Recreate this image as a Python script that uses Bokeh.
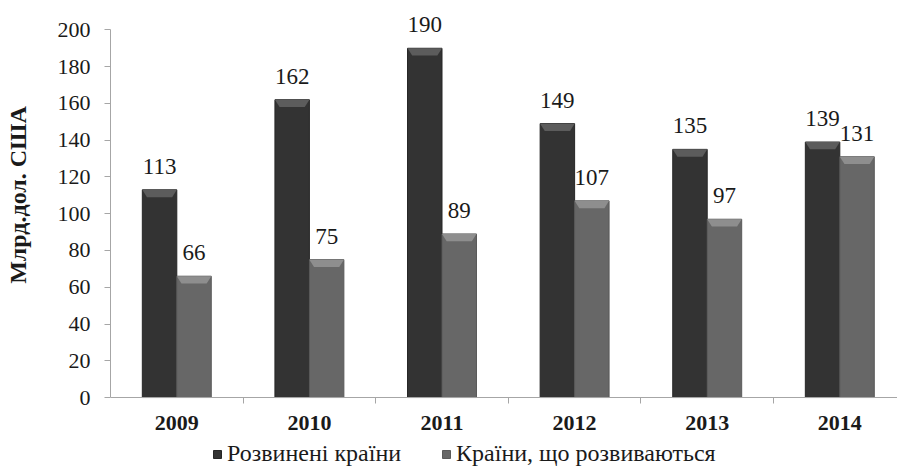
from bokeh.plotting import figure
from bokeh.models import Range1d, FixedTicker, ColumnDataSource, Legend, LegendItem, LabelSet
from bokeh.embed import file_html
from bokeh.resources import INLINE

years = ["2009", "2010", "2011", "2012", "2013", "2014"]
developed = [113, 162, 190, 149, 135, 139]
developing = [66, 75, 89, 107, 97, 131]
series_names = ["Розвинені країни", "Країни, що розвиваються"]
y_ticks = [0, 20, 40, 60, 80, 100, 120, 140, 160, 180, 200]
y_title = "Млрд.дол. США"

DARK = "#333333"
GRAY = "#676767"
FONT = "Liberation Serif"

centers = [i + 0.5 for i in range(len(years))]
bw = 0.26
off = 0.13
bev_h = 4.0     # bevel height in data units
bev_dx = 0.035  # bevel inset

p = figure(width=897, height=468, output_backend="svg", toolbar_location=None,
           x_range=Range1d(0, 5.935), y_range=Range1d(-38.6, 210),
           min_border_left=110, min_border_right=0, min_border_top=11, min_border_bottom=0)
p.outline_line_color = None
p.xgrid.grid_line_color = None
p.ygrid.grid_line_color = None
p.background_fill_color = "white"

def bevel(xs, tops):
    px, py = [], []
    for x, t in zip(xs, tops):
        l, r = x - bw / 2, x + bw / 2
        px.append([l, r, r - bev_dx, l + bev_dx])
        py.append([t, t, t - bev_h, t - bev_h])
    return px, py

x1 = [c - off for c in centers]
x2 = [c + off for c in centers]
src1 = ColumnDataSource(dict(x=x1, top=developed, lab=[str(v) for v in developed]))
src2 = ColumnDataSource(dict(x=x2, top=developing, lab=[str(v) for v in developing]))

r1 = p.vbar(x="x", top="top", bottom=0, width=bw, source=src1, fill_color=DARK,
            line_color="#262626", line_width=1)
r2 = p.vbar(x="x", top="top", bottom=0, width=bw, source=src2, fill_color=GRAY,
            line_color="#5a5a5a", line_width=1)
bx, by = bevel(x1, developed)
p.patches(bx, by, fill_color="#5c5c5c", line_color=None)
bx, by = bevel(x2, developing)
p.patches(bx, by, fill_color="#8e8e8e", line_color=None)

for s in (src1, src2):
    p.add_layout(LabelSet(x="x", y="top", text="lab", source=s, text_align="center",
                          text_baseline="bottom", y_offset=16, text_font=FONT,
                          text_font_size="23px", text_color="#1a1a1a"))

# y axis
ya = p.yaxis[0]
ya.ticker = FixedTicker(ticks=y_ticks)
ya.bounds = (0, 200)
ya.axis_line_color = "#a6a6a6"
ya.major_tick_line_color = "#a6a6a6"
ya.major_tick_out = 6
ya.major_tick_in = 0
ya.minor_tick_line_color = None
ya.major_label_standoff = 14
ya.major_label_text_font = FONT
ya.major_label_text_font_size = "22px"
ya.major_label_text_color = "#1a1a1a"
ya.axis_label = "\u00a0" * 15 + y_title
ya.axis_label_text_font = FONT
ya.axis_label_text_font_style = "bold"
ya.axis_label_text_font_size = "24px"
ya.axis_label_text_color = "#1a1a1a"
ya.axis_label_standoff = 24

# x axis, drawn at y = 0 inside the frame
xa = p.xaxis[0]
xa.fixed_location = 0
xa.ticker = FixedTicker(ticks=centers, minor_ticks=[1, 2, 3, 4, 5])
xa.major_label_overrides = {c: y for c, y in zip(centers, years)}
xa.axis_line_color = "#a6a6a6"
xa.major_tick_line_color = None
xa.minor_tick_line_color = "#a6a6a6"
xa.minor_tick_out = 6
xa.minor_tick_in = 0
xa.major_label_standoff = 12
xa.major_label_text_font = FONT
xa.major_label_text_font_style = "bold"
xa.major_label_text_font_size = "22px"
xa.major_label_text_color = "#1a1a1a"

legend = Legend(items=[LegendItem(label=series_names[0], renderers=[r1]),
                       LegendItem(label=series_names[1], renderers=[r2])],
                orientation="horizontal", location=(102, 1),
                label_text_font=FONT, label_text_font_size="24px", label_text_color="#1a1a1a",
                glyph_width=10, glyph_height=10, label_standoff=5, spacing=40,
                padding=0, margin=0, border_line_color=None, background_fill_alpha=0)
p.add_layout(legend, "center")

open("out.html", "w").write(file_html(p, INLINE))
